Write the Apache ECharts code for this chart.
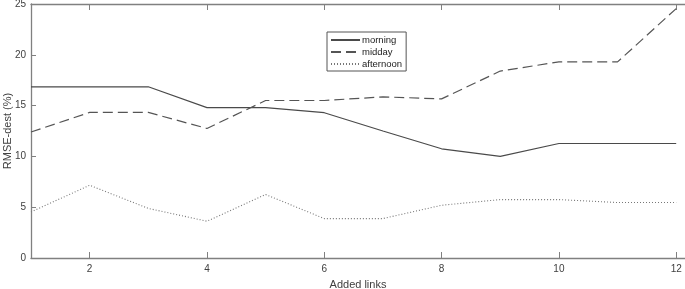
<!DOCTYPE html>
<html>
<head>
<meta charset="utf-8">
<script src="https://cdn.jsdelivr.net/npm/echarts@6/dist/echarts.min.js"></script>
<style>
html, body { margin: 0; padding: 0; background: #fff; }
#main { width: 685px; height: 289px; }
</style>
</head>
<body>
<div id="main"></div>
<script>
// values
var addedLinks = [1, 2, 3, 4, 5, 6, 7, 8, 9, 10, 11, 12];
var morning = [16.85, 16.85, 16.85, 14.8, 14.8, 14.3, 12.5, 10.75, 10.0, 11.27, 11.27, 11.27];
var midday = [12.4, 14.33, 14.33, 12.75, 15.5, 15.5, 15.86, 15.66, 18.4, 19.3, 19.3, 24.55];
var afternoon = [4.53, 7.16, 4.88, 3.62, 6.25, 3.88, 3.88, 5.19, 5.75, 5.75, 5.46, 5.46];
var xTicks = [2, 4, 6, 8, 10, 12];
var yTicks = [0, 5, 10, 15, 20, 25];

function pairs(ys) {
  return addedLinks.map(function (x, i) { return [x, ys[i]]; });
}

var chartDom = document.getElementById('main');
var myChart = echarts.init(chartDom);
var axisGray = '#808080';
var textGray = '#404040';
var font = 'Liberation Sans';

var option = {
  animation: false,
  grid: { left: 31, top: 4, right: 0, bottom: 31, containLabel: false, outerBoundsMode: 'none' },
  legend: {
    left: 327,
    top: 32,
    orient: 'vertical',
    padding: [3, 4, 2, 3],
    itemGap: 2,
    itemWidth: 29,
    itemHeight: 7,
    borderColor: '#555',
    borderWidth: 1,
    borderRadius: 0,
    backgroundColor: '#fff',
    itemStyle: { opacity: 0 },
    textStyle: { fontSize: 9.5, color: '#222', fontFamily: font, padding: [0, 0, 0, -3] },
    data: ['morning', 'midday', 'afternoon']
  },
  xAxis: [
    {
      type: 'value',
      min: 1,
      max: 12.15,
      name: 'Added links',
      nameLocation: 'middle',
      nameGap: 21,
      nameTextStyle: { fontSize: 11, color: textGray, fontFamily: font },
      axisLine: { lineStyle: { color: axisGray, width: 1.3 } },
      axisTick: { inside: true, length: 6, customValues: xTicks, lineStyle: { color: axisGray } },
      axisLabel: { customValues: xTicks, fontSize: 10, color: textGray, fontFamily: font, margin: 6 },
      splitLine: { show: false }
    },
    {
      type: 'value',
      position: 'top',
      min: 1,
      max: 12.15,
      axisLine: { show: true, lineStyle: { color: axisGray, width: 1.3 } },
      axisTick: { inside: true, length: 6, customValues: xTicks, lineStyle: { color: axisGray } },
      axisLabel: { show: false },
      splitLine: { show: false }
    }
  ],
  yAxis: {
    type: 'value',
    min: 0,
    max: 25,
    interval: 5,
    name: 'RMSE-dest (%)',
    nameLocation: 'middle',
    nameGap: 18,
    nameMoveOverlap: false,
    nameTextStyle: { fontSize: 11, color: textGray, fontFamily: font },
    axisLine: { show: true, lineStyle: { color: axisGray, width: 1.3 } },
    axisTick: { show: true, inside: true, length: 5, lineStyle: { color: axisGray } },
    axisLabel: { fontSize: 10, color: textGray, fontFamily: font, margin: 5,
      customValues: yTicks },
    splitLine: { show: false }
  },
  series: [
    {
      name: 'morning',
      type: 'line',
      data: pairs(morning),
      symbol: 'none',
      lineStyle: { color: '#4a4a4a', width: 1.2, type: 'solid' },
      itemStyle: { color: '#4a4a4a' }
    },
    {
      name: 'midday',
      type: 'line',
      data: pairs(midday),
      symbol: 'none',
      lineStyle: { color: '#555', width: 1.2, type: [10, 5] },
      itemStyle: { color: '#555' }
    },
    {
      name: 'afternoon',
      type: 'line',
      data: pairs(afternoon),
      symbol: 'none',
      lineStyle: { color: '#777', width: 1.1, type: [1, 2] },
      itemStyle: { color: '#777' }
    }
  ]
};

option && myChart.setOption(option);
window.addEventListener('resize', function () {
  myChart.resize();
});
</script>
</body>
</html>
